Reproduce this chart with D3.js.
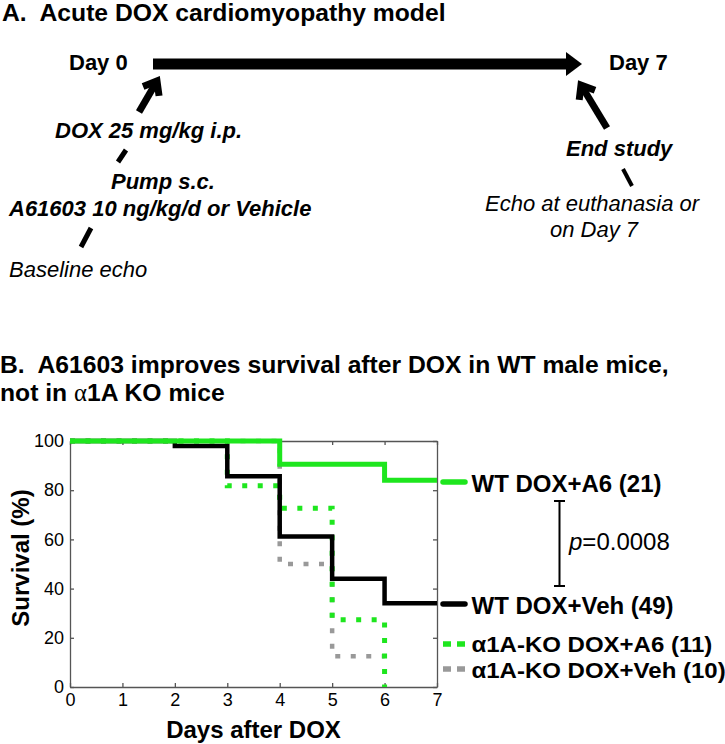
<!DOCTYPE html>
<html><head><meta charset="utf-8">
<script src="https://cdn.jsdelivr.net/npm/d3@7"></script>
<style>
html,body{margin:0;padding:0;background:#fff;}
svg text{font-family:"Liberation Sans",Arial,Helvetica,sans-serif;fill:#000;}
</style></head>
<body><div id="chart"></div>
<script>
// ---------------- DATA ----------------
const xTicks = [0,1,2,3,4,5,6,7];
const yTicks = [0,20,40,60,80,100];
const seriesNames = ["WT DOX+A6 (21)","WT DOX+Veh (49)","\u03b11A-KO DOX+A6 (11)","\u03b11A-KO DOX+Veh (10)"];
// Kaplan-Meier steps (day of step, survival % after step)
const wtA6Days  = [0,4,6,7];
const wtA6Surv  = [100,90.5,84,84];
const wtVehDays = [0,2,3,4,5,6,7];
const wtVehSurv = [100,98,85.7,61.2,44,34,34];
const koA6Days  = [0,3,4,5,6];
const koA6Surv  = [100,81.8,72.7,27.3,0];
const koVehDays = [0,4,5,6];
const koVehSurv = [100,50,12.5,12.5];
const pText = "=0.0008";

// ---------------- SETUP ----------------
const W=725,H=744;
const svg=d3.select("#chart").append("svg").attr("width",W).attr("height",H);
svg.append("rect").attr("width",W).attr("height",H).attr("fill","#fff");
const GREEN="#1ee61e", GRAY="#999999";

// ---------------- PANEL A (schematic) ----------------
const A=svg.append("g");
A.append("text").attr("x",2).attr("y",20.5).attr("font-size",24.7).attr("font-weight","bold")
 .attr("xml:space","preserve").text("A.  Acute DOX cardiomyopathy model");
A.append("text").attr("x",69).attr("y",70).attr("font-size",22).attr("font-weight","bold").text("Day 0");
A.append("text").attr("x",609).attr("y",70).attr("font-size",22).attr("font-weight","bold").text("Day 7");
// main timeline arrow
A.append("rect").attr("x",153).attr("y",58.5).attr("width",415).attr("height",11).attr("fill","#000");
A.append("path").attr("d","M566,52 L582,64 L566,76 Z").attr("fill","#000");

function chevArrow(tail,tip,w,armLen){
  const dx=tail[0]-tip[0], dy=tail[1]-tip[1], L=Math.hypot(dx,dy);
  const ux=dx/L, uy=dy/L, a=38*Math.PI/180;
  const r=(s)=>[tip[0]+armLen*(ux*Math.cos(s)-uy*Math.sin(s)), tip[1]+armLen*(ux*Math.sin(s)+uy*Math.cos(s))];
  const p1=r(a), p2=r(-a);
  A.append("path").attr("d",`M${tail[0]},${tail[1]} L${tip[0]+ux*2},${tip[1]+uy*2}`)
    .attr("stroke","#000").attr("stroke-width",w).attr("fill","none");
  A.append("path").attr("d",`M${p1[0]},${p1[1]} L${tip[0]},${tip[1]} L${p2[0]},${p2[1]}`)
    .attr("stroke","#000").attr("stroke-width",w).attr("fill","none").attr("stroke-linejoin","miter");
}
chevArrow([139,112],[157,81],7,15);
chevArrow([607,128],[581,85],7,15);

const bi=(x,y,t)=>A.append("text").attr("x",x).attr("y",y).attr("font-size",22).attr("font-weight","bold").attr("font-style","italic").text(t);
const it=(x,y,t)=>A.append("text").attr("x",x).attr("y",y).attr("font-size",22).attr("font-style","italic").text(t);
bi(55,138,"DOX 25 mg/kg i.p.");
bi(111,189,"Pump s.c.");
bi(9,216,"A61603 10 ng/kg/d or Vehicle");
it(9,277,"Baseline echo");
bi(566,156,"End study");
it(485,211,"Echo at euthanasia or");
it(550,237,"on Day 7");
const dash=(x1,y1,x2,y2,w)=>A.append("line").attr("x1",x1).attr("y1",y1).attr("x2",x2).attr("y2",y2).attr("stroke","#000").attr("stroke-width",w);
dash(126,150,118,162,5);
dash(91,228,81,247,5);
dash(623,169,632,186,4);

// ---------------- PANEL B (survival) ----------------
const B=svg.append("g");
B.append("text").attr("x",0).attr("y",373).attr("font-size",24.7).attr("font-weight","bold")
 .attr("xml:space","preserve").text("B.  A61603 improves survival after DOX in WT male mice,");
const t2=B.append("text").attr("x",0).attr("y",401).attr("font-size",24.7).attr("font-weight","bold");
t2.append("tspan").text("not in ");
t2.append("tspan").attr("font-family","'Liberation Serif','Times New Roman',serif").attr("font-weight","normal").text("\u03b1");
t2.append("tspan").text("1A KO mice");

const x=d3.scaleLinear().domain([0,7]).range([70,437]);
const y=d3.scaleLinear().domain([0,100]).range([687,441]);

const axisStyle=g=>{g.selectAll("path,line").attr("stroke","#555").attr("stroke-width",1.3);
  g.selectAll("text").attr("font-size",18).attr("fill","#000").attr("font-family","'Liberation Sans',Arial,sans-serif");};
B.append("g").attr("transform","translate(0,687)")
 .call(d3.axisBottom(x).tickValues(xTicks).tickSize(-4).tickSizeOuter(0).tickPadding(6).tickFormat(d3.format("d"))).call(axisStyle);
B.append("g").attr("transform","translate(70,0)")
 .call(d3.axisLeft(y).tickValues(yTicks).tickSize(-4).tickSizeOuter(0).tickPadding(6).tickFormat(d3.format("d"))).call(axisStyle);
B.append("g").attr("transform","translate(0,441)")
 .call(d3.axisTop(x).tickValues(xTicks).tickSize(-4).tickSizeOuter(0).tickFormat("")).call(axisStyle);
B.append("g").attr("transform","translate(437,0)")
 .call(d3.axisRight(y).tickValues(yTicks).tickSize(-4).tickSizeOuter(0).tickFormat("")).call(axisStyle);

const line=d3.line().x(d=>x(d[0])).y(d=>y(d[1])).curve(d3.curveStepAfter);
const zip=(a,b)=>a.map((d,i)=>[d,b[i]]);
const series=[
  {days:koVehDays,surv:koVehSurv,color:GRAY,dotted:true,w:4.5},
  {days:koA6Days,surv:koA6Surv,color:GREEN,dotted:true,w:5},
  {days:wtVehDays,surv:wtVehSurv,color:"#000",dotted:false,w:4.5},
  {days:wtA6Days,surv:wtA6Surv,color:GREEN,dotted:false,w:5}
];
series.forEach(s=>{
  B.append("path").attr("d",line(zip(s.days,s.surv))).attr("fill","none")
   .attr("stroke",s.color).attr("stroke-width",s.w)
   .attr("stroke-dasharray",s.dotted?"5 10.5":null)
   .attr("stroke-linejoin","miter");
});

// axis titles
B.append("text").attr("x",x(3.5)).attr("y",738).attr("text-anchor","middle").attr("font-size",24).attr("font-weight","bold").text("Days after DOX");
B.append("text").attr("transform","translate(28.5,558) rotate(-90)").attr("text-anchor","middle").attr("font-size",24).attr("font-weight","bold").text("Survival (%)");

// legend
const leg=[
  {name:seriesNames[0],color:GREEN,dotted:false,ly:482,ty:491.5,fs:24},
  {name:seriesNames[1],color:"#000",dotted:false,ly:604,ty:613.5,fs:24},
  {name:seriesNames[2],color:GREEN,dotted:true,ly:644,ty:652,fs:22.5},
  {name:seriesNames[3],color:GRAY,dotted:true,ly:669,ty:678,fs:22.5}
];
leg.forEach(l=>{
  B.append("line").attr("x1",443).attr("x2",465).attr("y1",l.ly).attr("y2",l.ly)
   .attr("stroke",l.color).attr("stroke-width",5.5).attr("stroke-linecap",l.dotted?"butt":"round")
   .attr("stroke-dasharray",l.dotted?"8 6":null);
  const t=B.append("text").attr("x",471.5).attr("y",l.ty).attr("font-size",24).attr("font-weight","bold").text(l.name);
  if(l.fs!==24){
    const len=t.node().getComputedTextLength();
    t.attr("font-size",l.fs).attr("textLength",len).attr("lengthAdjust","spacingAndGlyphs");
  }
});

// p-value bracket
B.append("path").attr("d","M554,501 H565 M559.5,501 V586 M554,586 H565").attr("stroke","#000").attr("stroke-width",2).attr("fill","none");
const pt=B.append("text").attr("x",569).attr("y",550).attr("font-size",24);
pt.append("tspan").attr("font-style","italic").text("p");
pt.append("tspan").text(pText);
</script></body></html>
